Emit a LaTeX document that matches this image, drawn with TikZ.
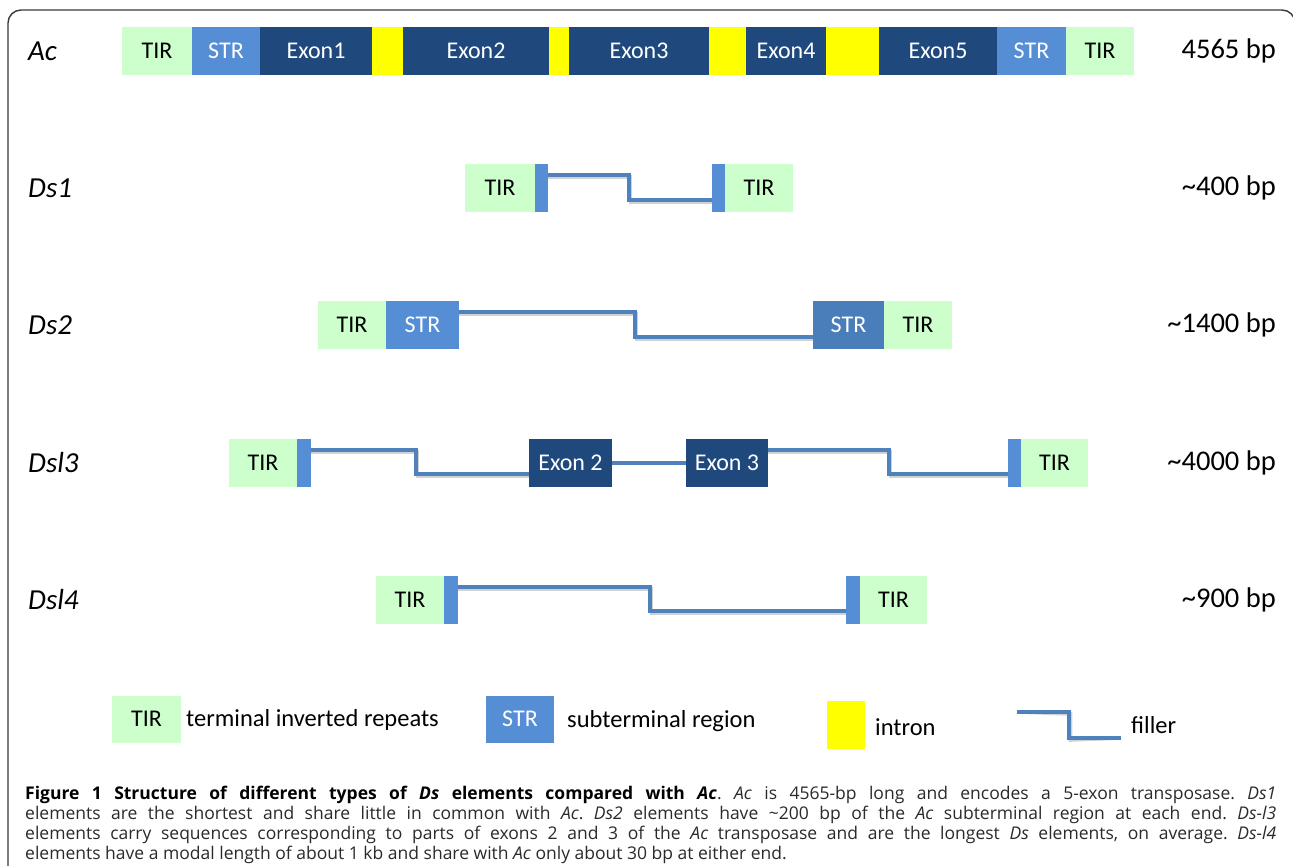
\documentclass[tikz,border=0pt]{standalone}
\usepackage{fontspec}
\setmainfont{Carlito}
\newfontfamily\capfont{Open Sans}
\usetikzlibrary{calc}
\definecolor{tirc}{HTML}{CCFFCC}
\definecolor{strc}{HTML}{558ED5}
\definecolor{strd}{HTML}{4A7EBB}
\definecolor{exonc}{HTML}{1F497D}
\definecolor{intronc}{HTML}{FFFF00}
\definecolor{fillc}{HTML}{4F81BD}
\definecolor{framec}{HTML}{3A3A3A}
\definecolor{capc}{HTML}{2A2A2A}
\begin{document}
\begin{tikzpicture}[x=1pt,y=-1pt,
 seg/.style={anchor=west, inner sep=0pt, outer sep=0pt, minimum height=48pt, font=\fontsize{24}{28}\selectfont},
 tir/.style={seg, fill=tirc, text=black},
 strbox/.style={seg, fill=strc, text=white},
 exon/.style={seg, fill=exonc, text=white},
 intron/.style={seg, fill=intronc},
 bar/.style={seg, fill=strc},
 filler/.style={draw=fillc, line width=3.6pt},
 fshadow/.style={draw=black, line width=3.6pt, opacity=0.18, shift={(1.5,2)}},
 rowlab/.style={anchor=west, inner sep=0pt, font=\fontsize{29}{34}\selectfont\itshape},
 sizelab/.style={anchor=east, inner sep=0pt, font=\fontsize{28.5}{34}\selectfont},
 legtext/.style={anchor=west, inner sep=0pt, font=\fontsize{24.5}{28}\selectfont},
]
\useasboundingbox (0,0) rectangle (1293,866);
\fill[white] (0,0) rectangle (1293,866);
% frame
\draw[framec, line width=1.4pt, rounded corners=13pt] (8,880) -- (8,10) -- (1295,10) -- (1295,880);

% ---- Ac ----
\node[rowlab] (lAc) at (28,51) {Ac};
\node[tir, minimum width=70pt] (a1) at (122,51) {TIR};
\node[strbox, minimum width=68pt] (a2) at (192,51) {STR};
\node[exon, minimum width=112pt] (a3) at (260,51) {Exon1};
\node[intron, minimum width=31pt] (a4) at (372,51) {};
\node[exon, minimum width=146pt] (a5) at (403,51) {Exon2};
\node[intron, minimum width=20pt] (a6) at (549,51) {};
\node[exon, minimum width=140pt] (a7) at (569,51) {Exon3};
\node[intron, minimum width=37pt] (a8) at (709,51) {};
\node[exon, minimum width=80pt] (a9) at (746,51) {Exon4};
\node[intron, minimum width=53pt] (a10) at (826,51) {};
\node[exon, minimum width=118pt] (a11) at (879,51) {Exon5};
\node[strbox, minimum width=69pt] (a12) at (997,51) {STR};
\node[tir, minimum width=68pt] (a13) at (1066,51) {TIR};
\node[sizelab] (sAc) at (1276,51) {4565 bp};

% ---- Ds1 ----
\node[rowlab] (lDs1) at (28,188) {Ds1};
\node[tir, minimum width=70pt] (b1) at (465,188) {TIR};
\node[bar, minimum width=13pt] (b2) at (535,188) {};
\node[bar, minimum width=13pt] (b3) at (712,188) {};
\node[tir, minimum width=68pt] (b4) at (725,188) {TIR};
\node[sizelab] (sDs1) at (1276,188) {\textasciitilde400 bp};
\draw[fshadow] (b2.east |- 0,175) -- (629,175) -- (629,200) -- (b3.west |- 0,200);
\draw[filler] (b2.east |- 0,175) -- (629,175) -- (629,200) -- (b3.west |- 0,200);

% ---- Ds2 ----
\node[rowlab] (lDs2) at (28,325) {Ds2};
\node[tir, minimum width=68pt] (c1) at (318,325) {TIR};
\node[strbox, minimum width=73pt] (c2) at (386,325) {STR};
\node[strbox, fill=strd, minimum width=71pt] (c3) at (813,325) {STR};
\node[tir, minimum width=68pt] (c4) at (884,325) {TIR};
\node[sizelab] (sDs2) at (1276,325) {\textasciitilde1400 bp};
\draw[fshadow] (c2.east |- 0,312) -- (635,312) -- (635,337) -- (c3.west |- 0,337);
\draw[filler] (c2.east |- 0,312) -- (635,312) -- (635,337) -- (c3.west |- 0,337);

% ---- Dsl3 ----
\node[rowlab] (lDsl3) at (28,463) {Dsl3};
\node[tir, minimum width=68pt] (d1) at (229,463) {TIR};
\node[bar, minimum width=14pt] (d2) at (297,463) {};
\node[exon, minimum width=83pt] (d3) at (529,463) {Exon 2};
\node[exon, minimum width=82pt] (d4) at (686,463) {Exon 3};
\node[bar, minimum width=13pt] (d5) at (1008,463) {};
\node[tir, minimum width=67pt] (d6) at (1021,463) {TIR};
\node[sizelab] (sDsl3) at (1276,463) {\textasciitilde4000 bp};
\draw[fshadow] (d2.east |- 0,450) -- (416,450) -- (416,474) -- (d3.west |- 0,474);
\draw[fshadow] (d3.east) -- (d4.west);
\draw[fshadow] (d4.east |- 0,450) -- (889,450) -- (889,474) -- (d5.west |- 0,474);
\draw[filler] (d2.east |- 0,450) -- (416,450) -- (416,474) -- (d3.west |- 0,474);
\draw[filler] (d3.east) -- (d4.west);
\draw[filler] (d4.east |- 0,450) -- (889,450) -- (889,474) -- (d5.west |- 0,474);

% ---- Dsl4 ----
\node[rowlab] (lDsl4) at (28,600) {Dsl4};
\node[tir, minimum width=68pt] (e1) at (376,600) {TIR};
\node[bar, minimum width=14pt] (e2) at (444,600) {};
\node[bar, minimum width=14pt] (e3) at (846,600) {};
\node[tir, minimum width=67pt] (e4) at (860,600) {TIR};
\node[sizelab] (sDsl4) at (1276,600) {\textasciitilde900 bp};
\draw[fshadow] (e2.east |- 0,587) -- (650,587) -- (650,611) -- (e3.west |- 0,611);
\draw[filler] (e2.east |- 0,587) -- (650,587) -- (650,611) -- (e3.west |- 0,611);

% ---- legend ----
\node[tir, minimum width=69pt, minimum height=47pt] (g1) at (112,719) {TIR};
\node[legtext] (g1t) at (186,720) {terminal inverted repeats};
\node[strbox, minimum width=68pt, minimum height=47pt] (g2) at (486,719) {STR};
\node[legtext] (g2t) at (567,721) {subterminal region};
\node[intron, minimum width=38pt, minimum height=48pt] (g3) at (827,725) {};
\node[legtext] (g3t) at (875,727) {intron};
\coordinate (gf1) at (1017,712);
\coordinate (gf2) at (1121,738);
\draw[fshadow] (gf1) -- (1069,712) -- (1069,738) -- (gf2);
\draw[filler] (gf1) -- (1069,712) -- (1069,738) -- (gf2);
\node[legtext] (g4t) at (1131,725) {filler};

% ---- caption ----
\node[anchor=north west, inner sep=0pt, text width=1251pt, align=justify, text=capc,
      font=\capfont\fontsize{17.5}{20}\selectfont] (cap) at (25,786)
{\frenchspacing\textbf{\color{black}Figure 1 Structure of different types of \textit{Ds} elements compared with \textit{Ac}}. \textit{Ac} is 4565-bp long and encodes a 5-exon transposase. \textit{Ds1}\linebreak
elements are the shortest and share little in common with \textit{Ac}. \textit{Ds2} elements have \textasciitilde200 bp of the \textit{Ac} subterminal region at each end. \textit{Ds-l3}\linebreak
elements carry sequences corresponding to parts of exons 2 and 3 of the \textit{Ac} transposase and are the longest \textit{Ds} elements, on average. \textit{Ds-l4}\linebreak
elements have a modal length of about 1 kb and share with \textit{Ac} only about 30 bp at either end.};
\end{tikzpicture}
\end{document}
